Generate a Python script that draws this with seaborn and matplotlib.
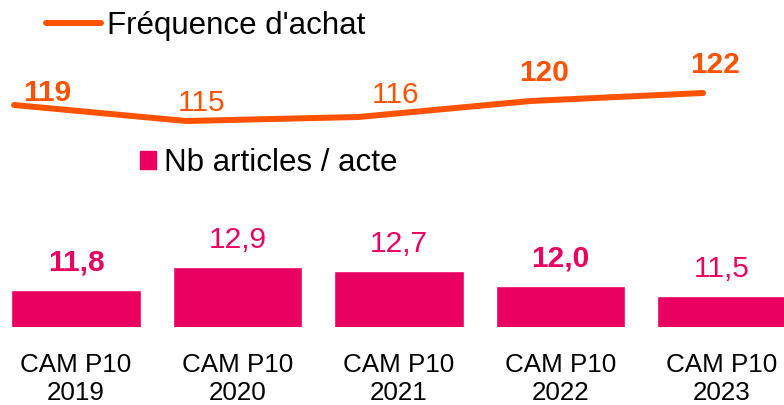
import seaborn as sns
import matplotlib.pyplot as plt
from matplotlib.lines import Line2D
from matplotlib.patches import Patch
import pandas as pd

# data
periods = ["CAM P10\n2019", "CAM P10\n2020", "CAM P10\n2021", "CAM P10\n2022", "CAM P10\n2023"]
frequence = [119, 115, 116, 120, 122]
articles = [11.8, 12.9, 12.7, 12.0, 11.5]
freq_bold = [True, False, False, True, True]
art_bold = [True, False, False, True, False]

ORANGE = "#FF5200"
PINK = "#EA0060"

sns.set_theme(style="white")
plt.rcParams["font.family"] = ["Liberation Sans", "DejaVu Sans"]
plt.rcParams["text.color"] = "black"

W, H = 784, 405
fig = plt.figure(figsize=(W / 100, H / 100), dpi=100)

def px_box(x0, y0, x1, y1):
    # pixel box (top-left origin) -> figure fraction rect
    return [x0 / W, 1 - y1 / H, (x1 - x0) / W, (y1 - y0) / H]

# ---- line panel (Fréquence d'achat)
ax1 = fig.add_axes(px_box(14, 81, 703, 141))
df_line = pd.DataFrame({"x": range(len(periods)), "freq": frequence})
sns.lineplot(data=df_line, x="x", y="freq", ax=ax1, color=ORANGE, lw=4.3,
             solid_capstyle="round", clip_on=False)
ax1.set_xlim(0, len(periods) - 1)
ax1.set_ylim(110, 125)
ax1.axis("off")

# label nudges (px right, px above)
line_nudge = [(33, 4), (15, 10), (37, 14), (13, 20), (12, 20)]
for i, (v, b) in enumerate(zip(frequence, freq_bold)):
    dx, dy = line_nudge[i]
    ax1.annotate(str(v), (i, v), xytext=(dx * 0.72, dy * 0.72), textcoords="offset points",
                 ha="center", va="baseline", fontsize=21.5, color=ORANGE,
                 fontweight="bold" if b else "normal", annotation_clip=False)

fig.legend(handles=[Line2D([0], [0], color=ORANGE, lw=4.3, solid_capstyle="round")],
           labels=["Fréquence d'achat"], loc="center left",
           bbox_to_anchor=(46 / W, 1 - 26 / H), frameon=False, fontsize=22.5,
           handlelength=1.75, handletextpad=0.2, borderpad=0, borderaxespad=0)

# ---- bar panel (Nb articles / acte)
step = 161.5
ax2 = fig.add_axes(px_box(76 - step / 2, 327 - 4 * 20.7, 76 + step * 4.5, 327))
df_bar = pd.DataFrame({"period": periods, "articles": articles})
sns.barplot(data=df_bar, x="period", y="articles", ax=ax2, color=PINK,
            saturation=1, width=0.8)
ax2.set_ylim(10, 14)
ax2.set_xlim(-0.5, len(periods) - 0.5)
ax2.set_xlabel("")
ax2.set_ylabel("")
ax2.set_yticks([])
for s in ax2.spines.values():
    s.set_visible(False)
ax2.tick_params(axis="x", length=0, pad=19, labelsize=18.7, labelcolor="black")

for i, (v, b) in enumerate(zip(articles, art_bold)):
    ax2.annotate(f"{v:.1f}".replace(".", ","), (i, v), xytext=(0, 19 * 0.72),
                 textcoords="offset points", ha="center", va="baseline",
                 fontsize=21.5, color=PINK, fontweight="bold" if b else "normal",
                 annotation_clip=False)

fig.legend(handles=[Patch(color=PINK)], labels=["Nb articles / acte"],
           loc="center left", bbox_to_anchor=(140 / W, 1 - 163 / H), frameon=False,
           fontsize=22.5, handlelength=0.52, handleheight=0.5, handletextpad=0.25,
           borderpad=0, borderaxespad=0)

fig.savefig("out.png", dpi=100)
